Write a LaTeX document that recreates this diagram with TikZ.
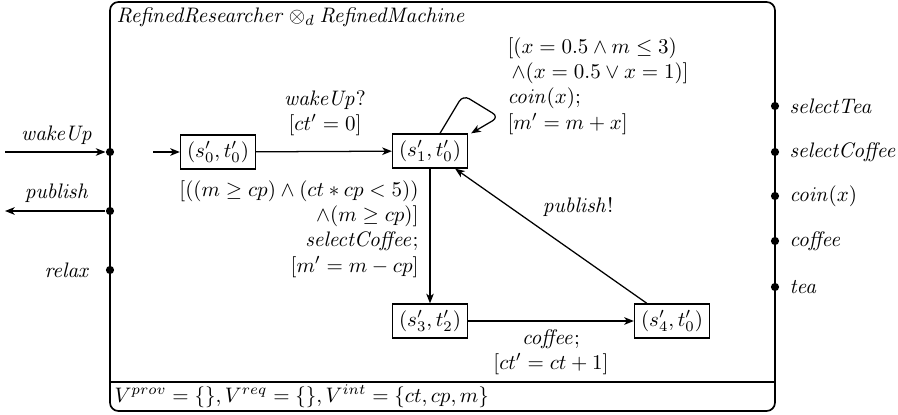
\documentclass[tikz,border=0pt]{standalone}
\usetikzlibrary{arrows.meta,calc}
\begin{document}
\begin{tikzpicture}[x=0.476pt,y=-0.476pt,
  >={Stealth[length=4.6pt,width=3.6pt,inset=1.3pt]},
  state/.style={draw,semithick,inner sep=3.1pt},
  port/.style={circle,fill,inner sep=0pt,minimum size=3.9pt},
  lbl/.style={inner sep=1pt},
  edgeline/.style={semithick,->}]
\useasboundingbox (0,0) rectangle (898,415);
% frame
\draw[thick,rounded corners=4pt] (110,2) rectangle (775,411);
\draw[thick] (110,382) -- (775,382);
\node[anchor=west,lbl] (title) at (114,17) {$\mathit{RefinedResearcher}\otimes_d \mathit{RefinedMachine}$};
\node[anchor=west,lbl] (vars) at (112,396) {$V^{prov}=\{\},V^{req}=\{\},V^{int}=\{ct,cp,m\}$};
% left ports
\node[port] (pw) at (110,152) {};
\node[port] (pp) at (110,211) {};
\node[port] (pr) at (110,270) {};
\coordinate (win) at (5,152);
\coordinate (pout) at (5,211);
\draw[edgeline] (win) -- (pw);
\draw[edgeline] (pp) -- (pout);
\node[lbl] (lw) at (57,135) {$\mathit{wakeUp}$};
\node[lbl] (lp) at (57,193) {$\mathit{publish}$};
\node[lbl,anchor=east] (lr) at (93,270) {$\mathit{relax}$};
% right ports
\foreach \n/\y in {a/106,b/152,c/196,d/241,e/287}{
  \node[port] (r\n) at (775,\y) {};
}
\node[lbl,anchor=west] (la) at (787,106) {$\mathit{selectTea}$};
\node[lbl,anchor=west] (lb) at (787,152) {$\mathit{selectCoffee}$};
\node[lbl,anchor=west] (lc) at (787,196) {$\mathit{coin}(x)$};
\node[lbl,anchor=west] (ld) at (787,241) {$\mathit{coffee}$};
\node[lbl,anchor=west] (le) at (787,287) {$\mathit{tea}$};
% states
\node[state] (s0) at (218,152) {$(s'_0,t'_0)$};
\node[state] (s1) at (430,151) {$(s'_1,t'_0)$};
\node[state] (s3) at (430,321) {$(s'_3,t'_2)$};
\node[state] (s4) at (672,321) {$(s'_4,t'_0)$};
\coordinate (init) at (153,152);
\draw[edgeline] (init) -- (s0);
\draw[edgeline] (s0) -- (s1);
\node[lbl,align=center] (l01) at (325,113) {$\mathit{wakeUp}?$\\$[ct'=0]$};
\draw[edgeline,rounded corners=3.5pt] ($(s1.north)+(10,0)$) -- (463,95) -- (499,117) -- ($(s1.north east)+(3,0)$);
\node[lbl,align=left,anchor=west] (l11) at (505,86) {$[(x=0.5\wedge m\leq 3)$\\\hspace{2pt}$\wedge(x=0.5\vee x=1)]$\\$\mathit{coin}(x);$\\$[m'=m+x]$};
\draw[edgeline] (s1) -- (s3);
\node[lbl,align=right,anchor=east] (l13) at (421,229) {$[((m\geq cp)\wedge(ct\ast cp<5))$\\$\wedge(m\geq cp)]$\\$\mathit{selectCoffee};$\\$[m'=m-cp]$};
\draw[edgeline] (s3) -- (s4);
\node[lbl,align=center] (l34) at (551,352) {$\mathit{coffee};$\\$[ct'=ct+1]$};
\draw[edgeline] (s4) -- (s1);
\node[lbl] (l41) at (578,207) {$\mathit{publish}!$};
\end{tikzpicture}
\end{document}
